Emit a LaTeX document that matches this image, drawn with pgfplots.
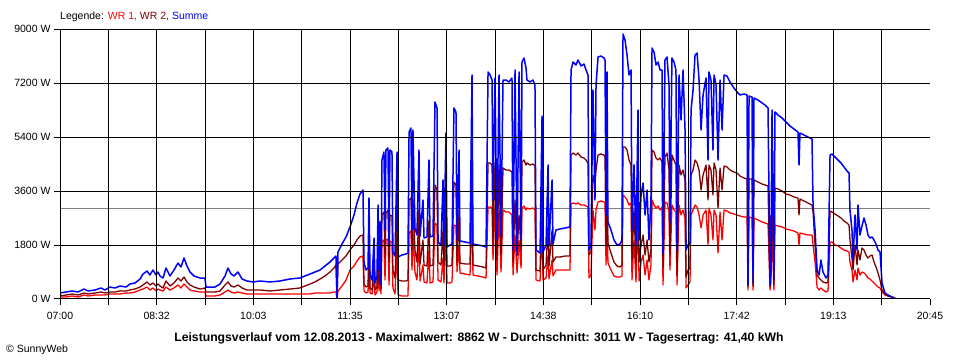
\documentclass[border=0pt]{standalone}
\usepackage{fontspec}
\setmainfont{Liberation Sans}
\usepackage{pgfplots}
\usepackage{pgfplotstable}
\pgfplotsset{compat=1.18}
\definecolor{wrone}{RGB}{255,0,0}
\definecolor{wrtwo}{RGB}{128,0,0}
\definecolor{summe}{RGB}{0,0,255}
\definecolor{avg}{RGB}{128,128,128}

% t = minutes after 07:00, values in W
\pgfplotstableread{
t sum wr2 wr1
0.0 200 100 67
5.7 233 133 67
11.4 267 167 100
17.1 233 133 67
22.8 333 200 133
26.6 267 167 100
33.2 300 200 133
38.9 367 233 133
42.7 300 200 133
47.4 400 233 167
52.2 367 233 167
56.9 433 267 167
62.6 400 267 200
66.4 500 300 200
71.1 533 333 233
75.9 667 400 300
78.7 833 467 333
82.5 933 567 400
85.3 800 467 300
88.2 967 533 367
91.0 800 433 267
92.9 900 500 333
94.8 767 433 300
97.7 700 367 267
100.5 1033 600 400
104.3 767 433 300
108.1 967 533 367
111.9 1200 700 467
114.7 1067 600 367
117.6 1367 733 500
120.4 1100 567 400
123.3 900 467 300
127.1 767 400 267
132.8 700 333 233
137.5 700 367 233
138.4 400 233 100
147.0 400 233 100
151.7 500 267 133
156.5 767 467 233
159.3 1033 567 300
162.2 833 433 233
165.0 767 400 200
168.8 900 467 233
172.6 667 367 200
177.3 600 300 167
183.0 567 300 167
189.7 600 300 167
199.1 567 267 167
208.6 600 300 167
218.1 667 333 167
227.6 700 367 167
232.3 767 433 167
237.1 833 500 167
241.8 900 567 200
246.6 967 667 200
251.3 1100 767 200
256.0 1233 900 200
259.8 1367 1033 233
261.7 1433 1133 233
262.7 0 67 0
263.6 1567 1167 267
267.4 1833 1300 433
271.2 2067 1433 633
275.0 2400 1633 967
278.8 2800 1800 1100
281.6 3200 1967 1267
284.5 3500 2100 1400
287.3 3633 2133 1433
288.3 1200 500 267
290.2 967 400 200
292.1 1033 433 233
293.0 3367 2133 1233
294.0 800 367 200
295.9 633 300 167
297.8 2033 1367 733
298.7 533 300 133
300.6 767 400 233
301.6 3133 1967 1133
302.5 967 500 267
303.4 2567 1300 800
304.4 467 333 167
305.3 4633 2800 1900
307.2 4900 2900 1967
308.2 2300 1367 633
309.1 4967 2867 1967
311.0 5033 2967 2000
312.0 1800 1233 467
312.9 4967 2800 1933
314.8 4900 2767 1900
315.7 1567 967 367
317.7 1433 700 167
319.6 4900 2800 1900
320.5 1400 633 133
324.3 1467 600 100
328.1 1500 600 100
330.0 1533 633 100
331.0 5567 3300 2200
332.8 5700 3367 2267
333.8 2300 1633 967
334.7 5633 3300 2233
336.6 2367 1633 900
338.5 2133 1233 633
340.4 4967 2967 1967
341.4 2100 1167 600
344.2 3300 1967 1133
345.2 2033 1133 567
348.0 2067 1100 533
349.9 4633 2633 1633
350.9 2067 1100 533
353.7 2100 1133 567
355.6 6567 3800 2533
357.5 6367 3633 2467
358.5 1900 1233 633
361.3 1800 1133 567
363.2 3967 2300 1367
364.1 1767 1100 533
366.0 5533 3300 2200
367.0 1733 1100 533
369.8 1800 1100 533
371.7 1833 1133 567
373.6 6367 3900 2467
375.5 6233 3800 2433
376.5 1967 1233 900
378.4 4967 2967 1800
379.3 1933 1200 867
384.1 1900 1167 833
388.8 1867 1167 800
390.7 7467 4633 2967
391.6 1833 1133 800
396.4 1800 1100 767
401.1 1767 1067 733
404.0 1733 1033 700
405.9 7567 4533 3067
407.8 7467 4533 3067
409.7 7300 4467 3033
410.6 3300 1800 1300
412.5 7367 4533 3033
414.4 1967 1300 800
416.3 7467 4467 2967
418.2 2100 1467 900
420.1 7300 4367 2967
422.9 7300 4300 2900
425.8 7233 4300 2900
428.6 7367 4233 2800
429.6 1633 1233 800
431.5 7633 3300 2133
433.4 1467 1467 867
435.3 7567 2800 1967
437.2 1967 1633 1033
438.1 7900 4567 3033
440.0 8033 4633 3100
441.9 7700 4467 2967
442.8 7300 4533 3033
445.7 7233 4467 3000
448.5 7300 4500 3033
450.4 7133 4433 2967
451.4 1633 967 633
455.2 1533 933 600
457.1 6100 3633 2467
458.0 1567 967 633
460.9 1800 1133 700
462.8 4467 2467 1467
463.7 1767 1100 667
466.6 3967 2300 1300
467.5 1833 1233 767
470.3 2300 1400 967
474.1 2333 1400 967
478.9 2367 1433 967
483.6 2400 1433 967
484.6 7633 4800 3167
486.5 7900 4867 3200
489.3 7800 4800 3167
491.2 7967 4867 3200
494.1 7767 4733 3133
496.9 7833 4700 3133
498.8 7633 4633 3100
500.7 7467 4533 3067
501.6 1633 1467 700
503.5 1800 1567 800
505.4 6967 4133 2967
507.3 3300 3800 2300
508.3 7133 4300 2967
510.2 8067 4800 3233
513.0 8100 4833 3267
515.9 8033 4800 3233
516.8 7967 4733 3200
517.8 2800 1800 1133
518.7 7567 4300 2967
519.6 2567 1867 1200
522.5 2300 1533 967
525.3 1967 1233 767
528.2 1800 1100 733
531.0 1833 1067 733
532.9 1967 1133 767
533.9 8833 5067 3467
535.8 8633 5067 3400
537.7 8133 4967 3300
539.6 7467 4633 3133
541.5 7633 4467 3200
542.4 2300 1300 633
544.3 4467 2967 1967
546.2 1800 1133 567
548.1 6300 3967 2800
549.1 1967 1233 600
551.0 3467 1800 1233
552.9 3867 2133 1467
554.8 2800 1467 800
556.7 3633 1967 1300
558.5 1967 1233 633
560.4 3300 1633 1133
561.4 8367 4967 3300
563.3 8233 4900 3133
565.2 7800 4700 3033
567.1 7900 4633 3100
569.0 7633 4700 2967
570.9 7633 4567 3067
571.8 1533 1033 467
573.7 7967 4733 3233
575.6 8067 4867 3200
577.5 7133 4300 2900
578.4 2533 1467 967
580.3 8033 4800 3133
582.2 7900 4633 2967
584.1 7633 4467 2900
585.1 1633 800 467
587.0 7467 4467 3133
588.9 5967 4133 2800
590.8 7633 4300 2967
592.7 5633 3967 2700
593.7 1633 733 367
595.5 1800 967 467
597.4 1867 1033 567
598.4 6300 4133 2800
600.3 6967 4300 2967
602.2 8133 4633 3133
604.1 8200 4533 3067
606.0 7300 4300 2800
607.9 5633 3633 2367
609.8 6800 4133 2800
612.6 7367 4467 2967
614.5 4633 3300 1800
615.4 7567 4467 3033
617.3 7300 4300 2800
619.2 4967 3467 1967
620.2 7467 4533 2967
622.1 7133 4300 2800
624.0 4633 3033 1533
625.9 7300 4367 2900
627.8 5633 3633 1967
629.7 7467 4433 2967
632.5 7433 4400 2933
635.3 7233 4300 2867
639.1 7033 4233 2833
642.0 6900 4200 2800
644.8 6800 4100 2767
648.6 6833 4033 2733
651.5 6800 4000 2733
652.4 467 400 300
653.4 6767 4000 2733
656.2 6733 4000 2700
657.2 533 433 300
658.1 6700 3967 2700
661.9 6633 3900 2633
665.7 6533 3833 2567
668.5 6467 3800 2533
671.4 6367 3767 2500
673.3 467 400 300
674.2 1633 967 567
675.2 6300 3733 2500
677.0 633 467 300
678.0 6233 3700 2467
680.8 6133 3667 2433
684.7 6033 3600 2400
688.5 5900 3500 2333
692.2 5767 3467 2300
696.0 5667 3400 2267
699.8 5567 3367 2200
700.8 4467 2800 1800
701.7 5533 3333 2200
705.5 5467 3267 2167
709.3 5400 3200 2133
713.1 5333 3133 2133
714.1 3133 2900 1800
716.0 2300 1800 1233
717.9 967 800 400
719.8 800 700 300
721.6 1300 633 367
723.5 900 567 300
726.4 700 533 233
728.3 800 567 267
730.2 4800 2933 1900
732.1 4833 2900 1900
734.9 4733 2833 1800
737.8 4633 2767 1767
740.6 4533 2700 1700
743.5 4400 2600 1633
746.3 4267 2533 1600
748.2 4200 2467 1567
749.1 2967 1967 1233
751.0 2300 1367 967
752.0 1300 967 567
753.9 2800 1800 967
755.8 1633 1133 633
756.7 3133 1633 1033
758.6 2133 1300 800
760.5 2433 1700 900
762.4 2700 1633 867
764.3 2467 1467 800
766.2 2133 1367 700
768.1 2033 1433 667
770.0 2067 1467 600
771.9 1967 1233 533
773.8 1833 1067 467
775.7 1633 867 400
777.6 1567 633 367
779.5 533 300 233
782.3 200 167 133
785.2 133 100 100
789.0 67 67 67
792.8 0 0 0
}\data

\begin{document}
\begin{tikzpicture}
\useasboundingbox (0,0) rectangle (960bp,360bp);
\begin{axis}[
  at={(60bp,61bp)}, anchor=south west,
  scale only axis, width=870bp, height=270bp,
  xmin=0, xmax=825, ymin=0, ymax=9000,
  axis x line*=bottom, axis y line*=left,
  axis line style={black, line width=1bp, -},
  axis on top,
  xtick={0,45.8333,91.6667,137.5,183.3333,229.1667,275,320.8333,366.6667,412.5,458.3333,504.1667,550,595.8333,641.6667,687.5,733.3333,779.1667},
  xticklabels={07:00,,08:32,,10:03,,11:35,,13:07,,14:38,,16:10,,17:42,,19:13,},
  extra x ticks={825}, extra x tick labels={20:45},
  extra x tick style={grid=none},
  ytick={0,1800,3600,5400,7200,9000},
  yticklabels={0 W,1800 W,3600 W,5400 W,7200 W,9000 W},
  xmajorgrids, ymajorgrids,
  grid style={black, line width=1bp},
  tick align=outside, major tick length=6bp,
  tick style={black, line width=1bp},
  tick label style={font=\fontsize{10.5bp}{12bp}\selectfont},
  /pgf/number format/assume math mode=true,
  xticklabel style={yshift=-4bp},
  every axis plot/.append style={line join=round, line width=1.3bp},
]
\addplot[avg, line width=1bp] coordinates {(0,3011) (825,3011)};
\addplot[wrone] table[x=t, y=wr1] {\data};
\addplot[wrtwo] table[x=t, y=wr2] {\data};
\addplot[summe, line width=1.5bp] table[x=t, y=sum] {\data};
\end{axis}
\node[anchor=base west, inner sep=0pt, font=\fontsize{10.5bp}{12bp}\selectfont] at (60bp,340bp)
  {Legende: {\color{wrone}WR 1,} {\color{wrtwo}WR 2,} {\color{summe}Summe}};
\node[anchor=base, inner sep=0pt, font=\fontsize{12.2bp}{14bp}\selectfont\bfseries] at (479bp,19bp)
  {Leistungsverlauf vom 12.08.2013 - Maximalwert: 8862 W - Durchschnitt: 3011 W - Tagesertrag: 41,40 kWh};
\node[anchor=base west, inner sep=0pt, font=\fontsize{10.5bp}{12bp}\selectfont] at (6bp,8bp)
  {© SunnyWeb};
\end{tikzpicture}
\end{document}
